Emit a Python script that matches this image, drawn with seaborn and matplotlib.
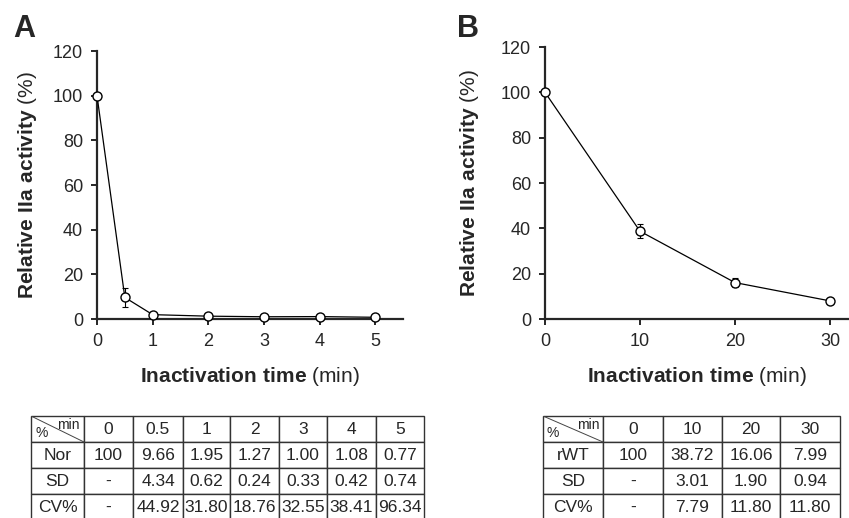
import matplotlib
matplotlib.use("Agg")
import matplotlib.pyplot as plt
import seaborn as sns
import pandas as pd

# panel A: normal plasma (Nor)
time_a = [0, 0.5, 1, 2, 3, 4, 5]
act_a = [100, 9.66, 1.95, 1.27, 1.00, 1.08, 0.77]
sd_a = [0, 4.34, 0.62, 0.24, 0.33, 0.42, 0.74]
cv_a = ["-", "44.92", "31.80", "18.76", "32.55", "38.41", "96.34"]
head_a = ["0", "0.5", "1", "2", "3", "4", "5"]
nor_a = ["100", "9.66", "1.95", "1.27", "1.00", "1.08", "0.77"]
sdtxt_a = ["-", "4.34", "0.62", "0.24", "0.33", "0.42", "0.74"]

# panel B: rWT
time_b = [0, 10, 20, 30]
act_b = [100, 38.72, 16.06, 7.99]
sd_b = [0, 3.01, 1.90, 0.94]
head_b = ["0", "10", "20", "30"]
rwt_b = ["100", "38.72", "16.06", "7.99"]
sdtxt_b = ["-", "3.01", "1.90", "0.94"]
cv_b = ["-", "7.79", "11.80", "11.80"]

sns.set_style("ticks")
plt.rcParams["font.family"] = ["Liberation Sans", "DejaVu Sans"]
plt.rcParams["mathtext.fontset"] = "custom"
plt.rcParams["mathtext.rm"] = "Liberation Sans"
plt.rcParams["mathtext.bf"] = "Liberation Sans:bold"

W, H = 849, 518
fig = plt.figure(figsize=(W / 100, H / 100), dpi=100)


def px(l, t, r, b):
    # pixel box -> figure fraction
    return [l / W, 1 - b / H, (r - l) / W, (b - t) / H]


def curve(ax, x, y, sd, xlim, xticks, lab_x):
    df = pd.DataFrame({"t": x, "a": y})
    ax.errorbar(x, y, yerr=sd, fmt="none", ecolor="black", elinewidth=0.8,
                capsize=2.5, capthick=0.8, zorder=2, clip_on=False)
    sns.lineplot(data=df, x="t", y="a", ax=ax, color="black", linewidth=0.9,
                 marker="o", markersize=6.5, markerfacecolor="white",
                 markeredgecolor="black", markeredgewidth=1.0, zorder=3,
                 clip_on=False)
    ax.set_xlim(*xlim)
    ax.set_ylim(0, 120)
    ax.set_xticks(xticks)
    ax.set_yticks(range(0, 121, 20))
    sns.despine(ax=ax)
    for s in ["left", "bottom"]:
        ax.spines[s].set_linewidth(1.6)
    ax.tick_params(labelsize=13, length=4, width=1.4, pad=6, direction="out")
    ax.set_xlabel(r"$\mathbf{Inactivation\ time}$ (min)", fontsize=15)
    ax.set_ylabel(r"$\mathbf{Relative\ IIa\ activity}$ (%)", fontsize=15)
    ax.xaxis.set_label_coords(0.5, -0.17)
    ax.yaxis.set_label_coords(lab_x, 0.5)


ax_a = fig.add_axes(px(97, 51, 403, 319))
curve(ax_a, time_a, act_a, sd_a, (0, 5.5), time_a[:1] + time_a[2:], -0.19)

ax_b = fig.add_axes(px(545, 47, 849, 319))
curve(ax_b, time_b, act_b, sd_b, (0, 32), time_b, -0.21)

fig.text(13 / W, 1 - 37 / H, "A", fontsize=22, fontweight="bold", va="baseline")
fig.text(457 / W, 1 - 37 / H, "B", fontsize=22, fontweight="bold", va="baseline")


def table(box, head, rows, widths):
    tax = fig.add_axes(px(*box))
    tax.axis("off")
    cells = [[""] + head] + rows
    tot = sum(widths)
    cw = [w / tot for w in widths]
    tb = tax.table(cellText=cells, colWidths=cw, bbox=[0, 0, 1, 1],
                   cellLoc="center")
    tb.auto_set_font_size(False)
    for (r, c), cell in tb.get_celld().items():
        cell.set_fontsize(12.5)
        cell.set_edgecolor("#333333")
        cell.set_linewidth(1.0)
    n = len(cells)
    top = 1 - 1 / n
    tr = tax.transAxes
    tax.plot([0, cw[0]], [1, top], color="#444444", lw=0.7, transform=tr)
    tax.text(cw[0] - 0.012, 1 - 0.02, "min", fontsize=10, ha="right",
             va="top", transform=tr)
    tax.text(0.012, top + 0.02, "%", fontsize=10, ha="left", va="bottom",
             transform=tr)


table((31, 416, 424, 520), head_a,
      [["Nor"] + nor_a, ["SD"] + sdtxt_a, ["CV%"] + cv_a],
      [53, 49, 50, 47, 49, 48, 49, 48])
table((543, 416, 840, 520), head_b,
      [["rWT"] + rwt_b, ["SD"] + sdtxt_b, ["CV%"] + cv_b],
      [60, 60, 59, 58, 60])

fig.savefig("out.png", dpi=100)
